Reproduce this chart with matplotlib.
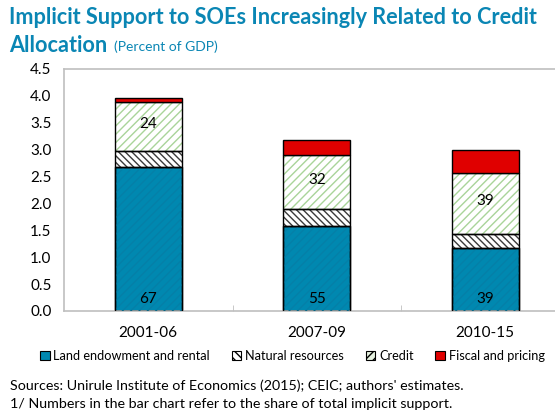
import numpy as np
import matplotlib.pyplot as plt
from matplotlib.patches import Patch

plt.rcParams['font.family'] = ['Lato', 'DejaVu Sans']
plt.rcParams['hatch.linewidth'] = 1.0

# Implicit support to SOEs by channel, percent of GDP
periods = ['2001-06', '2007-09', '2010-15']
land = [2.68, 1.58, 1.17]
natural = [0.30, 0.31, 0.26]
credit = [0.90, 1.01, 1.14]
fiscal = [0.09, 0.28, 0.42]

# share of total implicit support (percent), printed inside the bars
land_share = [67, 55, 39]
credit_share = [24, 32, 39]

series_names = ['Land endowment and rental', 'Natural resources', 'Credit', 'Fiscal and pricing']

blue = '#0088B0'
red = '#E00000'
title_col = '#0A86B4'
grid_col = '#BFBFBF'

fig = plt.figure(figsize=(5.55, 4.12), dpi=100)
ax = fig.add_axes([64 / 555, 101 / 412, 505.5 / 555, 242 / 412])

x = np.arange(len(periods))
w = 0.4
land = np.array(land)
natural = np.array(natural)
credit = np.array(credit)
fiscal = np.array(fiscal)

b1 = land
b2 = b1 + natural
b3 = b2 + credit

# land: solid teal with faint darker diagonals
ax.bar(x, land, w, color=blue, edgecolor='black', linewidth=1, zorder=2)
ax.bar(x, land, w, color='none', edgecolor='#0580A8', hatch='////', linewidth=0, zorder=3)
ax.bar(x, land, w, color='none', edgecolor='black', linewidth=1, zorder=4)

# natural resources: dense dark backslash hatch
ax.bar(x, natural, w, bottom=b1, color='white', edgecolor='#3a3a3a', hatch='\\\\\\\\\\', linewidth=0, zorder=2)
ax.bar(x, natural, w, bottom=b1, color='none', edgecolor='black', linewidth=1, zorder=4)

# credit: light green hatch
ax.bar(x, credit, w, bottom=b2, color='white', edgecolor='#A9D49A', hatch='////', linewidth=0, zorder=2)
ax.bar(x, credit, w, bottom=b2, color='none', edgecolor='black', linewidth=1, zorder=4)

# fiscal and pricing
ax.bar(x, fiscal, w, bottom=b3, color=red, edgecolor='black', linewidth=1, zorder=4)

for i in range(len(periods)):
    ax.text(x[i], 0.22, str(land_share[i]), ha='center', va='center', fontsize=11, color='black', zorder=5)
    ax.text(x[i], b2[i] + credit[i] / 2 + 0.05, str(credit_share[i]), ha='center', va='center', fontsize=11,
            color='black', zorder=5)

ax.set_xlim(-0.5, 2.5)
ax.set_ylim(0, 4.5)
ax.set_yticks(np.arange(0, 4.51, 0.5))
ax.set_yticklabels(['%.1f' % v for v in np.arange(0, 4.51, 0.5)], fontsize=11)
ax.set_xticks(x)
ax.set_xticklabels(periods, fontsize=11)
ax.set_xticks([0.5, 1.5], minor=True)
ax.tick_params(axis='x', which='major', length=0, pad=11)
ax.tick_params(axis='x', which='minor', length=4, direction='in', color=grid_col)
ax.tick_params(axis='y', length=0, pad=9)
for s in ['left', 'bottom', 'top']:
    ax.spines[s].set_color(grid_col)
    ax.spines[s].set_linewidth(1.2)
ax.spines['right'].set_visible(False)

# title block
fig.text(9 / 555, 1 - 17 / 412, 'Implicit Support to SOEs Increasingly Related to Credit',
         fontsize=15.6, fontweight='bold', color=title_col, va='center', ha='left')
alloc = fig.text(9 / 555, 1 - 45 / 412, 'Allocation', fontsize=15.6, fontweight='bold',
                 color=title_col, va='center', ha='left')
# subtitle sits right after "Allocation"
ax.annotate('(Percent of GDP)', xy=(1, 0.5), xycoords=alloc, xytext=(5, -1), textcoords='offset points',
            fontsize=10, color=title_col, va='center', ha='left', annotation_clip=False)

# legend below the plot
handles = [
    Patch(facecolor=blue, edgecolor='black', linewidth=0.8),
    Patch(facecolor='white', edgecolor='black', hatch='\\\\\\\\', linewidth=0.8),
    Patch(facecolor='#E6F2E0', edgecolor='black', hatch='////', linewidth=0.8),
    Patch(facecolor=red, edgecolor='black', linewidth=0.8),
]
fig.legend(handles, series_names, loc='center left', bbox_to_anchor=(40 / 555, 1 - 356 / 412),
           ncol=4, frameon=False, fontsize=9.2, handlelength=0.75, handleheight=0.75,
           handletextpad=0.3, columnspacing=1.7, borderaxespad=0, borderpad=0)

fig.text(10 / 555, 1 - 386 / 412, "Sources: Unirule Institute of Economics (2015); CEIC; authors' estimates.",
         fontsize=10.3, va='center', ha='left')
fig.text(10 / 555, 1 - 404 / 412, '1/ Numbers in the bar chart refer to the share of total implicit support.',
         fontsize=10.3, va='center', ha='left')

fig.savefig('out.png', dpi=100)
